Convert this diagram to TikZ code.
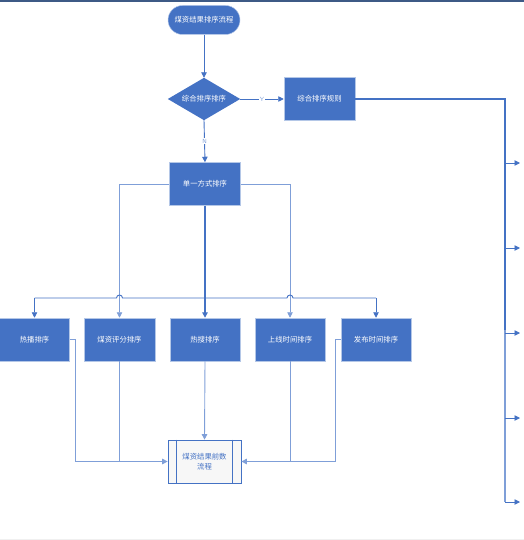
\documentclass[tikz,border=0pt]{standalone}
\usepackage{fontspec}
\newfontfamily\cjk{Noto Sans CJK SC}
\usetikzlibrary{arrows.meta,calc}
\definecolor{bl}{HTML}{4472C4}
\definecolor{lbl}{HTML}{7F9FD8}
\definecolor{edge}{HTML}{B4C7E7}
\definecolor{topl}{HTML}{3E5A86}
\begin{document}
\begin{tikzpicture}[x=1bp,y=-1bp,
  txt/.style={font=\cjk\fontsize{7.4}{10}\selectfont},
  box/.style={txt,fill=bl,draw=edge,line width=0.5pt,text=white,minimum width=71bp,minimum height=43bp,inner sep=1pt},
  term/.style={txt,fill=bl,draw=edge,line width=0.5pt,text=white,minimum width=72bp,minimum height=29bp,rounded corners=14.5bp,inner sep=1pt},
  ln/.style={draw=bl,line width=0.9pt},
  lnl/.style={draw=lbl,line width=0.9pt},
  arr/.style={-{Triangle[length=5.5bp,width=5.5bp]}},
  lab/.style={font=\sffamily\fontsize{6}{7}\selectfont,text=lbl,fill=white,inner sep=1pt}]
\useasboundingbox (0,0) rectangle (524,540);
\draw[draw=topl,line width=1.2pt] (0,1) -- (524,1);
\draw[draw=black!6,line width=1pt] (0,539) -- (524,539);

% nodes
\node[term] (start) at (204,20) {煤资结果排序流程};
\node[txt,text=white,minimum width=72bp,minimum height=42bp,inner sep=0] (dec) at (204,99) {};
\fill[bl] (dec.west) -- (dec.north) -- (dec.east) -- (dec.south) -- cycle;
\node[txt,text=white] at (dec.center) {综合排序排序};
\node[box] (rule) at (319.5,99) {综合排序规则};
\node[box] (single) at (205,184) {单一方式排序};
\node[box,minimum width=70bp] (b1) at (34.5,339.5) {热播排序};
\node[box] (b2) at (119.5,339.5) {煤资评分排序};
\node[box,minimum width=70bp] (b3) at (205,339.5) {热搜排序};
\node[box,minimum width=70bp] (b4) at (290,339.5) {上线时间排序};
\node[box,minimum width=70bp] (b5) at (376,339.5) {发布时间排序};
\node[txt,fill=black!3,draw=bl,line width=0.7pt,text=bl,minimum width=73bp,minimum height=43bp,align=center,inner sep=0] (fin) at (204.5,461.5) {煤资结果前数\\流程};
\draw[bl,line width=0.7pt] ([xshift=9bp]fin.north west) -- ([xshift=9bp]fin.south west)
  ([xshift=-9bp]fin.north east) -- ([xshift=-9bp]fin.south east);

% top connectors
\draw[ln,arr] (start.south) -- (dec.north);
\draw[ln,arr] (dec.east) -- node[lab,pos=0.5]{Y} (rule.west);
\draw[ln,arr] (dec.south) -- node[lab,pos=0.5]{N} (single.north);

% right bus
\coordinate (rtop) at (505,99);
\coordinate (rbot) at (505,502);
\draw[draw=bl,line width=1.4pt] (rule.east) -- (rtop) -- (505,330);
\draw[draw=lbl,line width=1.4pt] (505,330) -- (rbot);
\foreach \y/\n in {163/o1,248/o2,333/o3,418/o4,502/o5}{
  \coordinate (\n) at (520,\y);
  \draw[ln,arr] (rtop |- \n) -- (\n);
}

% single -> sides
\draw[lnl,arr] (single.west) -| (b2.north);
\draw[lnl,arr] (single.east) -| (b4.north);
\draw[ln,line width=1.2pt,arr] (single.south) -- (b3.north);
\coordinate (hub) at (205,298);
\draw[ln] (b1.north |- hub) -- (116.5,298) arc[start angle=180,end angle=0,radius=3bp]
  -- (287,298) arc[start angle=180,end angle=0,radius=3bp] -- (b5.north |- hub);
\draw[ln,arr] (b1.north |- hub) -- (b1.north);
\draw[ln,arr] (b5.north |- hub) -- (b5.north);

% bottom
\coordinate (j1) at (75,339.5);
\coordinate (j5) at (335,339.5);
\draw[lnl,arr] (b1.east) -- (j1) |- (fin.west);
\draw[lnl] (b2.south) -- (b2.south |- fin.west);
\draw[lnl,arr] (b3.south) -- (fin.north);
\draw[lnl] (b4.south) -- (b4.south |- fin.east);
\draw[lnl,arr] (b5.west) -- (j5) |- (fin.east);
\end{tikzpicture}
\end{document}
